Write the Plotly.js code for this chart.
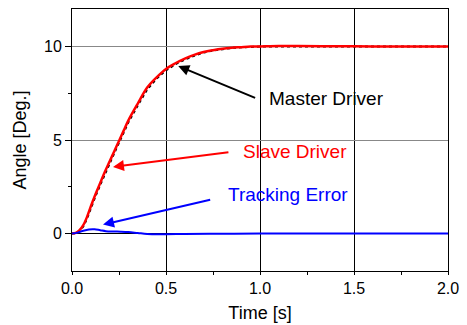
<!DOCTYPE html>
<html>
<head>
<meta charset="utf-8">
<script src="https://cdn.plot.ly/plotly-3.0.1.min.js"></script>
<style>html,body{margin:0;padding:0;background:#fff;}#chart{width:467px;height:325px;}</style>
</head>
<body>
<div id="chart"></div>
<script>
var timeDrv = [0, 0.02, 0.04, 0.06, 0.08, 0.1, 0.125, 0.15, 0.175, 0.2, 0.225, 0.25, 0.275, 0.3, 0.35, 0.4, 0.45, 0.5, 0.55, 0.6, 0.65, 0.7, 0.75, 0.8, 0.85, 0.9, 0.95, 1.0, 1.1, 1.2, 1.4, 1.6, 1.8, 2.0];
var slaveDriver = [0, 0.04, 0.18, 0.45, 0.89, 1.45, 2.1, 2.7, 3.3, 3.85, 4.4, 4.95, 5.5, 6.05, 6.95, 7.8, 8.35, 8.8, 9.1, 9.35, 9.55, 9.7, 9.8, 9.88, 9.93, 9.96, 9.99, 10.0, 10.02, 10.02, 10.01, 10.0, 10.0, 10.0];
var masterDriver = [0, 0.02, 0.12, 0.38, 0.8, 1.35, 2.0, 2.6, 3.2, 3.75, 4.3, 4.85, 5.4, 5.95, 6.85, 7.7, 8.28, 8.72, 9.05, 9.3, 9.5, 9.67, 9.78, 9.86, 9.92, 9.95, 9.98, 9.99, 10.0, 10.0, 10.0, 9.99, 9.99, 9.99];
var timeErr = [0, 0.03, 0.06, 0.09, 0.12, 0.15, 0.18, 0.22, 0.26, 0.3, 0.35, 0.4, 0.5, 0.6, 0.8, 1.0, 1.5, 2.0];
var trackingError = [0, 0.05, 0.15, 0.22, 0.23, 0.18, 0.13, 0.11, 0.1, 0.08, 0.03, -0.02, -0.03, -0.02, -0.01, 0, 0, 0];
var xTicks = [0, 0.5, 1.0, 1.5, 2.0];
var xTickText = ['0.0', '0.5', '1.0', '1.5', '2.0'];
var yTicks = [0, 5, 10];
var labels = ['Master Driver', 'Slave Driver', 'Tracking Error'];
var labelColors = ['#000000', '#ff0000', '#0000ff'];
var labelPos = [[1.036, 7.2], [0.899, 4.36], [0.819, 2.1]];
var arrowTail = [[0.982, 7.22], [0.84, 4.36], [0.743, 1.83]];
var arrowHead = [[0.565, 8.95], [0.218, 3.56], [0.165, 0.48]];

var font = 'Liberation Sans, Arial, sans-serif';
var traces = [
  {x: timeDrv, y: masterDriver, mode: 'lines', line: {color: '#000', width: 2, dash: 'dot'}, name: labels[0]},
  {x: timeDrv, y: slaveDriver, mode: 'lines', line: {color: '#ff0000', width: 2.5, shape: 'spline'}, name: labels[1]},
  {x: timeErr, y: trackingError, mode: 'lines', line: {color: '#0000ff', width: 2, shape: 'spline'}, name: labels[2]}
];
var annotations = [];
for (var i = 0; i < labels.length; i++) {
  annotations.push({x: labelPos[i][0], y: labelPos[i][1], xref: 'x', yref: 'y', text: labels[i], showarrow: false,
    xanchor: 'left', yanchor: 'middle', font: {family: font, size: 19, color: labelColors[i]}});
  annotations.push({x: arrowHead[i][0], y: arrowHead[i][1], ax: arrowTail[i][0], ay: arrowTail[i][1],
    xref: 'x', yref: 'y', axref: 'x', ayref: 'y', text: '', showarrow: true,
    arrowhead: 2, arrowsize: 1.1, arrowwidth: 2, arrowcolor: labelColors[i]});
}
var layout = {
  width: 467, height: 325,
  margin: {l: 72, r: 19, t: 9, b: 54},
  paper_bgcolor: '#fff', plot_bgcolor: '#fff',
  showlegend: false,
  font: {family: font, size: 16, color: '#000'},
  xaxis: {
    range: [0, 2], tickvals: xTicks, ticktext: xTickText,
    ticks: 'outside', ticklen: 3, tickcolor: '#000', tickwidth: 1,
    minor: {dtick: 0.25, ticks: 'outside', ticklen: 3, tickcolor: '#000', showgrid: false},
    showgrid: true, gridcolor: '#000', gridwidth: 1,
    zeroline: false, showline: true, linecolor: '#000', linewidth: 1, mirror: true,
    tickfont: {size: 16},
    title: {text: 'Time [s]', font: {size: 18}, standoff: 10}
  },
  yaxis: {
    range: [-2, 12], tickvals: yTicks,
    ticks: 'outside', ticklen: 6, tickcolor: '#000', tickwidth: 1,
    minor: {dtick: 2.5, ticks: 'outside', ticklen: 3, tickcolor: '#000', showgrid: false},
    showgrid: true, gridcolor: '#888', gridwidth: 1,
    zeroline: true, zerolinecolor: '#000', zerolinewidth: 1,
    showline: true, linecolor: '#000', linewidth: 1, mirror: true,
    tickfont: {size: 16},
    title: {text: 'Angle [Deg.]', font: {size: 18}, standoff: 12}
  },
  annotations: annotations
};
Plotly.newPlot('chart', traces, layout, {staticPlot: true, displayModeBar: false});
</script>
</body>
</html>
